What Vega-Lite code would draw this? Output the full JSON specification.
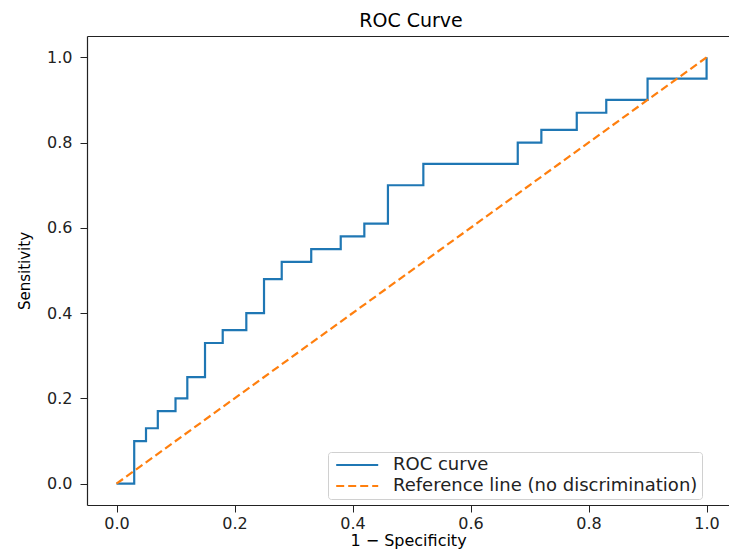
{
  "$schema": "https://vega.github.io/schema/vega-lite/v6.json",
  "autosize": {"type": "none"},
  "padding": {"left": 87, "top": 36, "right": 0, "bottom": 44},
  "width": 642,
  "height": 469,
  "background": "white",
  "title": {"text": "ROC Curve", "font": "DejaVu Sans", "fontSize": 19, "fontWeight": "normal", "color": "black", "anchor": "middle", "offset": 5, "dx": 3},
  "config": {
    "view": {"stroke": null},
    "axis": {
      "grid": false,
      "domain": true,
      "domainColor": "#222",
      "domainWidth": 1.2,
      "tickColor": "#222",
      "tickSize": 7,
      "tickWidth": 1,
      "labelFont": "DejaVu Sans",
      "labelFontSize": 16,
      "labelColor": "#222",
      "titleFont": "DejaVu Sans",
      "titleFontWeight": "normal",
      "titleColor": "black"
    }
  },
  "resolve": {"axis": {"x": "independent"}},
  "layer": [
    {
      "data": {"values": [
        {"fpr": 0.00, "tpr": 0.00, "series": "ROC curve"},
        {"fpr": 0.03, "tpr": 0.10, "series": "ROC curve"},
        {"fpr": 0.05, "tpr": 0.13, "series": "ROC curve"},
        {"fpr": 0.07, "tpr": 0.17, "series": "ROC curve"},
        {"fpr": 0.10, "tpr": 0.20, "series": "ROC curve"},
        {"fpr": 0.12, "tpr": 0.25, "series": "ROC curve"},
        {"fpr": 0.15, "tpr": 0.33, "series": "ROC curve"},
        {"fpr": 0.18, "tpr": 0.36, "series": "ROC curve"},
        {"fpr": 0.22, "tpr": 0.40, "series": "ROC curve"},
        {"fpr": 0.25, "tpr": 0.48, "series": "ROC curve"},
        {"fpr": 0.28, "tpr": 0.52, "series": "ROC curve"},
        {"fpr": 0.33, "tpr": 0.55, "series": "ROC curve"},
        {"fpr": 0.38, "tpr": 0.58, "series": "ROC curve"},
        {"fpr": 0.42, "tpr": 0.61, "series": "ROC curve"},
        {"fpr": 0.46, "tpr": 0.70, "series": "ROC curve"},
        {"fpr": 0.52, "tpr": 0.75, "series": "ROC curve"},
        {"fpr": 0.68, "tpr": 0.80, "series": "ROC curve"},
        {"fpr": 0.72, "tpr": 0.83, "series": "ROC curve"},
        {"fpr": 0.78, "tpr": 0.87, "series": "ROC curve"},
        {"fpr": 0.83, "tpr": 0.90, "series": "ROC curve"},
        {"fpr": 0.90, "tpr": 0.95, "series": "ROC curve"},
        {"fpr": 1.00, "tpr": 1.00, "series": "ROC curve"}
      ]},
      "mark": {"type": "line", "interpolate": "step-after", "strokeWidth": 2.2},
      "encoding": {
        "x": {
          "field": "fpr", "type": "quantitative",
          "scale": {"domain": [-0.05, 1.038], "nice": false, "zero": false},
          "axis": {"orient": "top", "labels": false, "ticks": false, "title": null}
        },
        "y": {
          "field": "tpr", "type": "quantitative",
          "scale": {"domain": [-0.05, 1.05], "nice": false, "zero": false},
          "axis": {"values": [0, 0.2, 0.4, 0.6, 0.8, 1.0], "format": ".1f", "title": "Sensitivity", "titleFontSize": 15, "labelPadding": 8, "titlePadding": 14}
        },
        "color": {"field": "series", "type": "nominal"},
        "strokeDash": {"field": "series", "type": "nominal"}
      }
    },
    {
      "data": {"values": [
        {"fpr": 0, "tpr": 0, "series": "Reference line (no discrimination)"},
        {"fpr": 1, "tpr": 1, "series": "Reference line (no discrimination)"}
      ]},
      "mark": {"type": "line", "strokeWidth": 2.2},
      "encoding": {
        "x": {
          "field": "fpr", "type": "quantitative",
          "scale": {"domain": [-0.05, 1.038], "nice": false, "zero": false},
          "axis": {"orient": "bottom", "values": [0, 0.2, 0.4, 0.6, 0.8, 1.0], "format": ".1f", "title": "1 − Specificity", "titleFontSize": 16, "labelPadding": 3, "titlePadding": 1}
        },
        "y": {
          "field": "tpr", "type": "quantitative",
          "scale": {"domain": [-0.05, 1.05], "nice": false, "zero": false}
        },
        "color": {
          "field": "series", "type": "nominal",
          "scale": {"domain": ["ROC curve", "Reference line (no discrimination)"], "range": ["#1f77b4", "#ff7f0e"]},
          "legend": {
            "title": null,
            "orient": "none",
            "legendX": 241,
            "legendY": 416,
            "fillColor": "white",
            "strokeColor": "#d0d0d0",
            "cornerRadius": 3,
            "padding": 4,
            "symbolType": "M-0.6,0H4.65",
            "symbolSize": 256,
            "symbolStrokeWidth": 2,
            "labelOffset": 43,
            "labelFont": "DejaVu Sans",
            "labelFontSize": 18,
            "labelColor": "#222",
            "rowPadding": 3,
            "labelLimit": 400
          }
        },
        "strokeDash": {
          "field": "series", "type": "nominal",
          "scale": {"domain": ["ROC curve", "Reference line (no discrimination)"], "range": [[1, 0], [8, 4]]},
          "legend": null
        }
      }
    }
  ]
}
